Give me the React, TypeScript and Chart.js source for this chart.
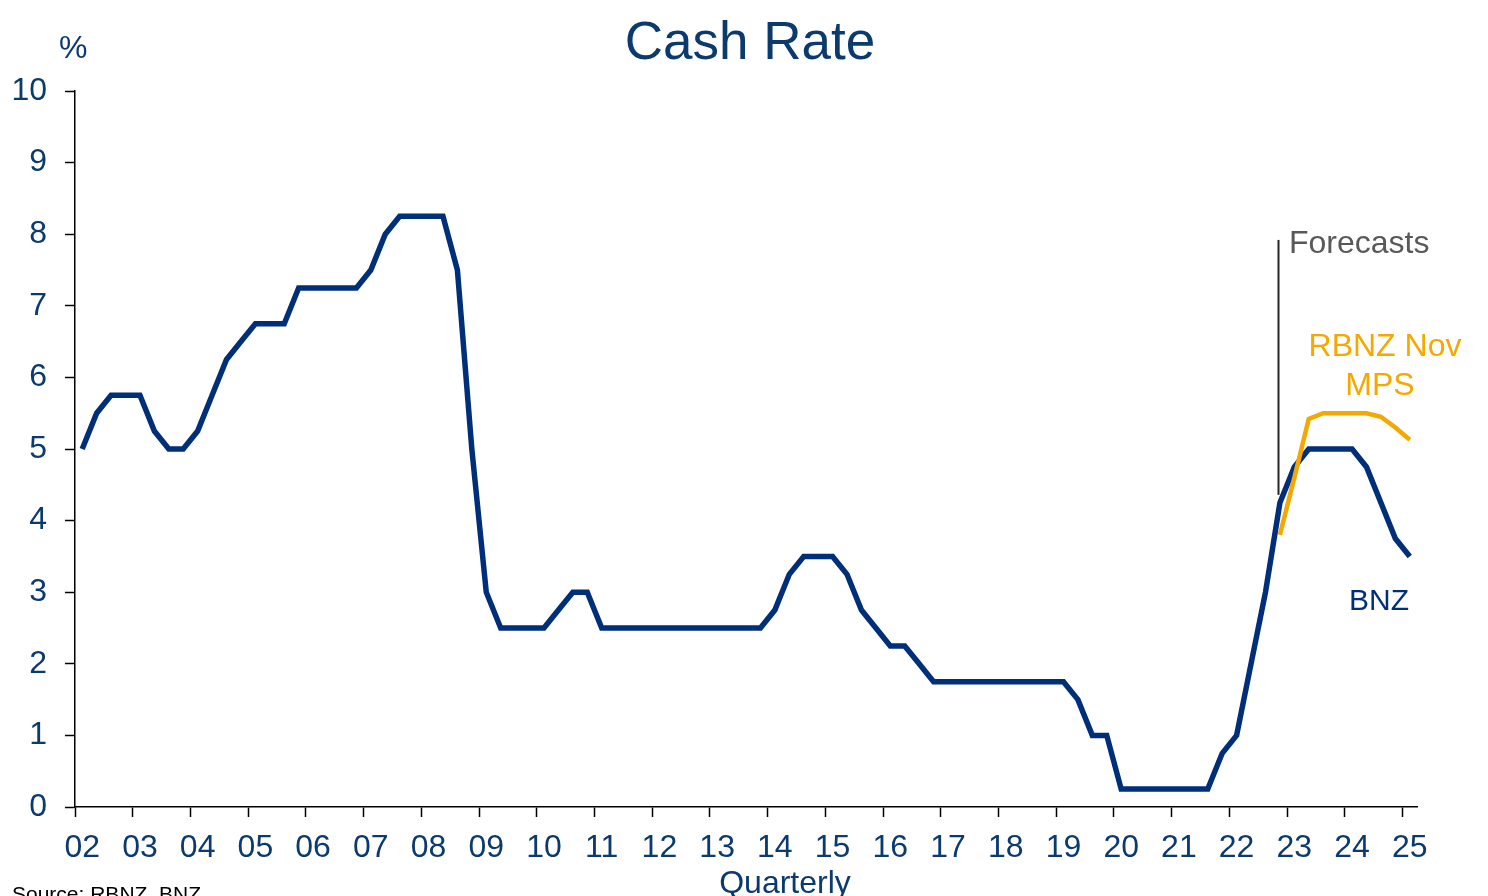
import React, { useEffect, useRef } from 'react';
import { Chart, registerables } from 'chart.js';

Chart.register(...registerables);

// Year tick labels (one per year, shown at each Q1)
const yearLabels = ['02', '03', '04', '05', '06', '07', '08', '09', '10', '11', '12', '13', '14', '15', '16', '17', '18', '19', '20', '21', '22', '23', '24', '25'];
const quarterNames = ['Q1', 'Q2', 'Q3', 'Q4'];

// BNZ cash rate history + forecast, quarterly 2002Q1 .. 2025Q1
const bnzRate = [
  5.0, 5.5, 5.75, 5.75, // 2002
  5.75, 5.25, 5.0, 5.0, // 2003
  5.25, 5.75, 6.25, 6.5, // 2004
  6.75, 6.75, 6.75, 7.25, // 2005
  7.25, 7.25, 7.25, 7.25, // 2006
  7.5, 8.0, 8.25, 8.25, // 2007
  8.25, 8.25, 7.5, 5.0, // 2008
  3.0, 2.5, 2.5, 2.5, // 2009
  2.5, 2.75, 3.0, 3.0, // 2010
  2.5, 2.5, 2.5, 2.5, // 2011
  2.5, 2.5, 2.5, 2.5, // 2012
  2.5, 2.5, 2.5, 2.5, // 2013
  2.75, 3.25, 3.5, 3.5, // 2014
  3.5, 3.25, 2.75, 2.5, // 2015
  2.25, 2.25, 2.0, 1.75, // 2016
  1.75, 1.75, 1.75, 1.75, // 2017
  1.75, 1.75, 1.75, 1.75, // 2018
  1.75, 1.5, 1.0, 1.0, // 2019
  0.25, 0.25, 0.25, 0.25, // 2020
  0.25, 0.25, 0.25, 0.75, // 2021
  1.0, 2.0, 3.0, 4.25, // 2022
  4.75, 5.0, 5.0, 5.0, // 2023
  5.0, 4.75, 4.25, 3.75, // 2024
  3.5, // 2025
];

// RBNZ November MPS track, 2022Q4 .. 2025Q1
const rbnzStartIndex = 83;
const rbnzNovMps = [3.8, 4.6, 5.42, 5.5, 5.5, 5.5, 5.5, 5.45, 5.3, 5.13];

// Forecast marker
const forecastIndex = 83;
const forecastLineFrom = 7.92;
const forecastLineTo = 4.36;

const yTicks = [0, 1, 2, 3, 4, 5, 6, 7, 8, 9, 10];

const categories: string[] = [];
yearLabels.forEach((y, yi) => {
  quarterNames.forEach((q, qi) => {
    if (yi < yearLabels.length - 1 || qi === 0) categories.push(`${q} ${y}`);
  });
});

const rbnzSeries: (number | null)[] = categories.map((_, i) =>
  i >= rbnzStartIndex && i - rbnzStartIndex < rbnzNovMps.length ? rbnzNovMps[i - rbnzStartIndex] : null
);

const FONT = "'Liberation Sans', Arial, Helvetica, sans-serif";
const NAVY_TEXT = '#0B3A6E';
const NAVY_LINE = '#002F7A';
const ORANGE = '#F5A800';
const GREY_TEXT = '#595959';

const annotationPlugin = {
  id: 'annotations',
  afterDraw(chart: any) {
    const { ctx } = chart;
    const xs = chart.scales.x;
    const ys = chart.scales.y;
    ctx.save();
    // Forecast vertical line
    const fx = Math.round(xs.getPixelForValue(forecastIndex) - 1.5) + 0.5;
    ctx.strokeStyle = '#262626';
    ctx.lineWidth = 2;
    ctx.beginPath();
    ctx.moveTo(fx, ys.getPixelForValue(forecastLineFrom));
    ctx.lineTo(fx, ys.getPixelForValue(forecastLineTo));
    ctx.stroke();

    ctx.textBaseline = 'alphabetic';
    // Title
    ctx.fillStyle = NAVY_TEXT;
    ctx.font = `53px ${FONT}`;
    ctx.textAlign = 'center';
    ctx.fillText('Cash Rate', 750, 59);
    // % unit
    ctx.font = `32px ${FONT}`;
    ctx.textAlign = 'left';
    ctx.fillText('%', 59, 58);
    // Forecasts
    ctx.fillStyle = GREY_TEXT;
    ctx.font = `32px ${FONT}`;
    ctx.fillText('Forecasts', 1289, 253);
    // RBNZ label
    ctx.fillStyle = ORANGE;
    ctx.textAlign = 'center';
    ctx.fillText('RBNZ Nov', 1385, 356);
    ctx.fillText('MPS', 1380, 395);
    // BNZ label
    ctx.fillStyle = NAVY_LINE;
    ctx.font = `30px ${FONT}`;
    ctx.fillText('BNZ', 1379, 610);
    // Axis title
    ctx.fillStyle = NAVY_TEXT;
    ctx.font = `32px ${FONT}`;
    ctx.fillText('Quarterly', 785, 893);
    // Source
    ctx.fillStyle = '#000';
    ctx.font = `21px ${FONT}`;
    ctx.textAlign = 'left';
    ctx.fillText('Source: RBNZ, BNZ', 12, 901);
    ctx.restore();
  },
};

export default function App() {
  const canvasRef = useRef<HTMLCanvasElement | null>(null);

  useEffect(() => {
    document.body.style.margin = '0';
    const canvas = canvasRef.current;
    if (!canvas) return;
    const tickColor = (c: any) =>
      typeof c.index === 'number' && c.index % 4 === 0 ? '#000' : 'rgba(0,0,0,0)';
    const chart = new Chart(canvas, {
      type: 'line',
      data: {
        labels: categories,
        datasets: [
          {
            label: 'RBNZ Nov MPS',
            data: rbnzSeries,
            borderColor: ORANGE,
            backgroundColor: ORANGE,
            borderWidth: 4.5,
            pointRadius: 0,
            tension: 0,
            spanGaps: false,
          },
          {
            label: 'BNZ',
            data: bnzRate,
            borderColor: NAVY_LINE,
            backgroundColor: NAVY_LINE,
            borderWidth: 5.5,
            pointRadius: 0,
            tension: 0,
          },
        ],
      },
      options: {
        responsive: false,
        animation: false,
        devicePixelRatio: 1,
        layout: { padding: { left: 0, right: 71, top: 91, bottom: 0 } },
        plugins: {
          legend: { display: false },
          tooltip: { enabled: false },
          title: { display: false },
        },
        scales: {
          x: {
            type: 'category',
            offset: true,
            grid: {
              offset: true,
              drawOnChartArea: false,
              tickLength: 10,
              color: tickColor,
              tickColor: tickColor,
              tickWidth: 1.5,
            },
            border: { color: '#000', width: 1.5 },
            ticks: {
              autoSkip: false,
              maxRotation: 0,
              minRotation: 0,
              padding: 12,
              color: NAVY_TEXT,
              font: { family: FONT, size: 32 },
              callback: (_v: any, i: number) => (i % 4 === 0 ? yearLabels[i / 4] : ''),
            },
            afterFit: (s: any) => {
              s.height = 89;
            },
          },
          y: {
            min: yTicks[0],
            max: yTicks[yTicks.length - 1],
            afterBuildTicks: (s: any) => {
              s.ticks = yTicks.map((v) => ({ value: v }));
            },
            ticks: {
              padding: 18,
              color: NAVY_TEXT,
              font: { family: FONT, size: 32 },
            },
            grid: {
              drawOnChartArea: false,
              tickLength: 10,
              color: '#000',
              tickWidth: 1.5,
            },
            border: { color: '#000', width: 1.5 },
            afterFit: (s: any) => {
              s.width = 75;
            },
          },
        },
      },
      plugins: [annotationPlugin],
    } as any);
    return () => chart.destroy();
  }, []);

  return (
    <div style={{ position: 'absolute', left: 0, top: 0, width: 1488, height: 896, background: '#fff' }}>
      <canvas ref={canvasRef} width={1488} height={896} style={{ display: 'block', width: 1488, height: 896 }} />
    </div>
  );
}
